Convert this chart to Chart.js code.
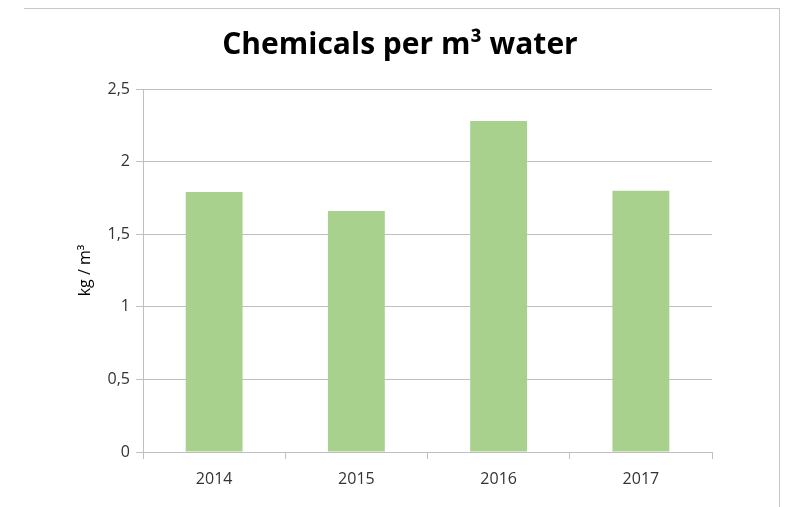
<!DOCTYPE html>
<html>
<head>
<meta charset="utf-8">
<script src="https://cdn.jsdelivr.net/npm/chart.js@4/dist/chart.umd.min.js"></script>
<style>
    html, body { margin: 0; padding: 0; background: #fff; }
    #wrap { position: relative; width: 787px; height: 507px; }
    #frame { position: absolute; left: 24px; top: 8px; width: 756px; height: 499px;
             border-top: 1px solid #c8c8c8; border-right: 1px solid #c8c8c8; box-sizing: border-box; }
    canvas { position: absolute; left: 0; top: 0; }
</style>
</head>
<body>
<div id="wrap">
    <div id="frame"></div>
    <canvas id="barChart" width="787" height="507"></canvas>
</div>
<script>
// chart data
var years = ['2014', '2015', '2016', '2017'];
var chemicals = [1.79, 1.66, 2.28, 1.80];
var yTicks = [0, 0.5, 1, 1.5, 2, 2.5];
var chartTitle = 'Chemicals per m³ water';

// title is drawn by hand so it can sit centred on the page, not on the padded box
var titlePlugin = {
    id: 'pageTitle',
    afterDraw: function (chart) {
        var c = chart.ctx;
        c.save();
        c.font = 'bold 30px "Open Sans"';
        c.fillStyle = '#000';
        c.textAlign = 'center';
        c.textBaseline = 'middle';
        c.fillText(chartTitle, 400, 45);
        c.restore();
    }
};

document.addEventListener('DOMContentLoaded', function () {
    var ctx = document.getElementById('barChart').getContext('2d');
    var barChart = new Chart(ctx, {
        type: 'bar',
        data: {
            labels: years,
            datasets: [{
                label: 'Chemicals',
                data: chemicals,
                backgroundColor: '#a9d18e',
                borderWidth: 0,
                barPercentage: 0.4,
                categoryPercentage: 1
            }]
        },
        plugins: [titlePlugin],
        options: {
            responsive: false,
            animation: false,
            layout: { padding: { left: 72, right: 75, top: 89, bottom: 10 } },
            plugins: {
                legend: { display: false },
                tooltip: { enabled: false },
                title: { display: false }
            },
            scales: {
                x: {
                    grid: { offset: true, drawOnChartArea: false, color: '#bfbfbf', tickLength: 7 },
                    border: { color: '#bfbfbf' },
                    ticks: { color: '#333', font: { family: 'Open Sans', size: 16 }, padding: 11 },
                    afterFit: function (scale) { scale.height = 45; }
                },
                y: {
                    min: 0,
                    max: 2.5,
                    afterBuildTicks: function (scale) {
                        scale.ticks = yTicks.map(function (v) { return { value: v }; });
                    },
                    grid: { color: '#bfbfbf', tickLength: 7 },
                    border: { color: '#bfbfbf' },
                    ticks: {
                        color: '#333',
                        font: { family: 'Open Sans', size: 16 },
                        padding: 6,
                        callback: function (value) { return String(value).replace('.', ','); }
                    },
                    title: {
                        display: true,
                        text: 'kg / m³',
                        color: '#000',
                        font: { family: 'Open Sans', size: 16 }
                    },
                    afterFit: function (scale) { scale.width = 71; }
                }
            }
        }
    });
});
</script>
</body>
</html>
